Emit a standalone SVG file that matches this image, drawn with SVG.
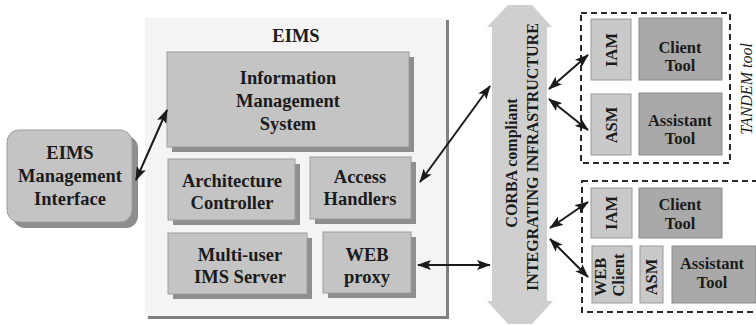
<svg xmlns="http://www.w3.org/2000/svg" width="756" height="326" viewBox="0 0 756 326">
  <style>
    .lbl { font-family: "Times New Roman", "Liberation Serif", "DejaVu Serif", serif; font-weight: bold; fill: #1b1b1b; text-anchor: middle; }
    .big { font-size: 18.5px; }
    .mid { font-size: 16.5px; }
    .box { fill: #c4c4c4; stroke: #9c9c9c; stroke-width: 1; }
    .shadow { fill: #8e8e8e; }
    .tool { fill: #a9a9a9; stroke: #8a8a8a; stroke-width: 1; }
    .agent { fill: #c9c9c9; stroke: #9a9a9a; stroke-width: 1; }
    .dash { fill: none; stroke: #2a2a2a; stroke-width: 2; stroke-dasharray: 6 4; }
    .conn { stroke: #1a1a1a; stroke-width: 2; fill: none; marker-start: url(#head); marker-end: url(#head); }
    .ital { font-family: "Times New Roman", "Liberation Serif", "DejaVu Serif", serif; font-style: italic; font-size: 16px; fill: #1b1b1b; text-anchor: middle; }
  </style>
  <defs>
    <marker id="head" viewBox="0 0 14 10" refX="13" refY="5" markerWidth="14" markerHeight="10" markerUnits="userSpaceOnUse" orient="auto-start-reverse">
      <path d="M0,0 L14,5 L0,10 L3,5 Z" fill="#1a1a1a"/>
    </marker>
  </defs>

  <!-- EIMS container -->
  <g id="eims">
    <rect x="145" y="18" width="303" height="300" fill="#f4f4f4"/>
    <path d="M447.5,20 V317.5 H148" fill="none" stroke="#7f7f7f" stroke-width="3"/>
    <text class="lbl big" x="296" y="42">EIMS</text>
  </g>

  <g id="ims">
    <rect class="shadow" x="172" y="57" width="242" height="95"/>
    <rect class="box" x="167" y="52" width="242" height="95"/>
    <text class="lbl big" x="288" y="84">Information</text>
    <text class="lbl big" x="288" y="107">Management</text>
    <text class="lbl big" x="288" y="130">System</text>
  </g>

  <g id="arch-controller">
    <rect class="shadow" x="173" y="164" width="127" height="61"/>
    <rect class="box" x="168" y="159" width="127" height="61"/>
    <text class="lbl big" x="232" y="187">Architecture</text>
    <text class="lbl big" x="232" y="209">Controller</text>
  </g>

  <g id="access-handlers">
    <rect class="shadow" x="315" y="162" width="101" height="62"/>
    <rect class="box" x="310" y="157" width="101" height="62"/>
    <text class="lbl big" x="360" y="183">Access</text>
    <text class="lbl big" x="360" y="205">Handlers</text>
  </g>

  <g id="ims-server">
    <rect class="shadow" x="173" y="238" width="139" height="61"/>
    <rect class="box" x="168" y="233" width="139" height="61"/>
    <text class="lbl big" x="240" y="261">Multi-user</text>
    <text class="lbl big" x="240" y="283">IMS Server</text>
  </g>

  <g id="web-proxy">
    <rect class="shadow" x="328" y="237" width="88" height="61"/>
    <rect class="box" x="323" y="232" width="88" height="61"/>
    <text class="lbl big" x="367" y="261">WEB</text>
    <text class="lbl big" x="367" y="283">proxy</text>
  </g>

  <g id="eims-mgmt">
    <rect class="shadow" x="13" y="136" width="125" height="92" rx="12"/>
    <rect class="box" x="7" y="130" width="125" height="92" rx="12"/>
    <text class="lbl big" x="70" y="159">EIMS</text>
    <text class="lbl big" x="70" y="182">Management</text>
    <text class="lbl big" x="70" y="205">Interface</text>
  </g>

  <!-- CORBA bus: vertical double arrow -->
  <g id="corba">
    <polygon points="508,5 532,5 552,27 547,27 547,301 553,301 532,324 508,324 487,301 492,301 492,27 487,27" fill="#cfcfcf"/>
    <text class="lbl" font-size="16" transform="translate(517,163) rotate(-90)">CORBA compliant</text>
    <text class="lbl" font-size="16" transform="translate(538,157) rotate(-90)">INTEGRATING INFRASTRUCTURE</text>
  </g>

  <!-- TANDEM tool -->
  <g id="tandem-tool">
    <rect class="dash" x="581" y="13" width="149" height="150"/>
    <rect class="agent" x="591" y="19" width="40" height="61"/>
    <text class="lbl mid" transform="translate(617,50) rotate(-90)">IAM</text>
    <rect class="tool" x="639" y="18" width="83" height="62"/>
    <text class="lbl mid" x="680" y="53">Client</text>
    <text class="lbl mid" x="680" y="71">Tool</text>
    <rect class="agent" x="591" y="94" width="40" height="61"/>
    <text class="lbl mid" transform="translate(617,125) rotate(-90)">ASM</text>
    <rect class="tool" x="639" y="93" width="83" height="62"/>
    <text class="lbl mid" x="680" y="126">Assistant</text>
    <text class="lbl mid" x="680" y="144">Tool</text>
    <text class="ital" transform="translate(752,89) rotate(-90)">TANDEM tool</text>
  </g>

  <!-- web-enabled tool -->
  <g id="web-tool">
    <rect class="dash" x="582" y="181" width="180" height="131"/>
    <rect class="agent" x="591" y="188" width="41" height="50"/>
    <text class="lbl mid" transform="translate(617,213) rotate(-90)">IAM</text>
    <rect class="tool" x="639" y="188" width="83" height="50"/>
    <text class="lbl mid" x="680" y="210">Client</text>
    <text class="lbl mid" x="680" y="229">Tool</text>
    <rect class="agent" x="592" y="246" width="40" height="57"/>
    <text class="lbl mid" transform="translate(606,277) rotate(-90)">WEB</text>
    <text class="lbl mid" transform="translate(624,275) rotate(-90)">Client</text>
    <rect class="agent" x="640" y="246" width="23" height="57"/>
    <text class="lbl mid" transform="translate(657,277) rotate(-90)">ASM</text>
    <rect class="tool" x="672" y="246" width="84" height="57"/>
    <text class="lbl mid" x="712" y="269">Assistant</text>
    <text class="lbl mid" x="712" y="288">Tool</text>
  </g>

  <!-- connectors -->
  <g id="connectors">
    <line class="conn" x1="136" y1="180" x2="167" y2="110"/>
    <line class="conn" x1="420" y1="182" x2="490" y2="86"/>
    <line class="conn" x1="418" y1="265" x2="490" y2="265"/>
    <line class="conn" x1="549" y1="89" x2="588" y2="55"/>
    <line class="conn" x1="549" y1="99" x2="588" y2="130"/>
    <line class="conn" x1="550" y1="228" x2="588" y2="202"/>
    <line class="conn" x1="550" y1="239" x2="588" y2="277"/>
  </g>
</svg>
